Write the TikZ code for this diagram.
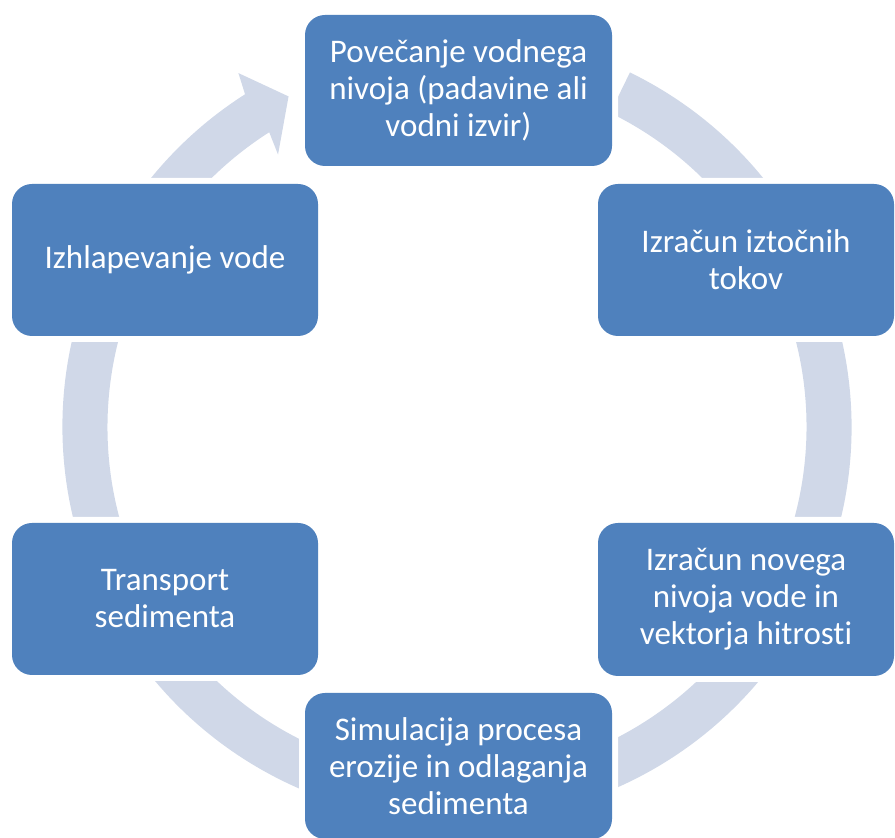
\documentclass[tikz,border=0pt]{standalone}
\usepackage{fontspec}
\setmainfont[Ligatures=NoCommon]{Carlito}
\definecolor{boxblue}{HTML}{4F81BD}
\definecolor{ringblue}{HTML}{D0D8E8}
\begin{document}
\begin{tikzpicture}[x=1pt,y=1pt,
  stepbox/.style={rectangle, rounded corners=20pt, fill=boxblue,
    preaction={draw=white, line width=12pt},
    text=white, align=center, inner sep=0pt,
    font=\fontsize{33}{37}\selectfont},
  ringfill/.style={fill=ringblue}]
\useasboundingbox (0,0) rectangle (895,838);
% circular arrow
\begin{scope}[shift={(457,411)}]
\fill[ringfill] (64:394.5pt) arc[start angle=64, end angle=-237.5, radius=394.5pt]
  -- (-238.3:416pt) -- (-243:371pt) -- (-236.7:326pt) -- (-237.5:349.5pt)
  arc[start angle=-237.5, end angle=64, radius=349.5pt] -- cycle;
\end{scope}
% boxes
\node[stepbox, minimum width=307pt, minimum height=151pt] (top) at (458.5,747.5)
  {Povečanje vodnega\\nivoja (padavine ali\\vodni izvir)};
\node[stepbox, minimum width=296pt, minimum height=152pt] (ru) at (746,578)
  {Izračun iztočnih\\tokov};
\node[stepbox, minimum width=296pt, minimum height=153pt] (rl) at (746,238.5)
  {Izračun novega\\nivoja vode in\\vektorja hitrosti};
\node[stepbox, minimum width=307pt, minimum height=146pt] (bot) at (458.5,72)
  {Simulacija procesa\\erozije in odlaganja\\sedimenta};
\node[stepbox, minimum width=306pt, minimum height=152pt] (ll) at (165,239)
  {Transport\\sedimenta};
\node[stepbox, minimum width=306pt, minimum height=152pt] (lu) at (165,578)
  {Izhlapevanje vode};
\end{tikzpicture}
\end{document}
